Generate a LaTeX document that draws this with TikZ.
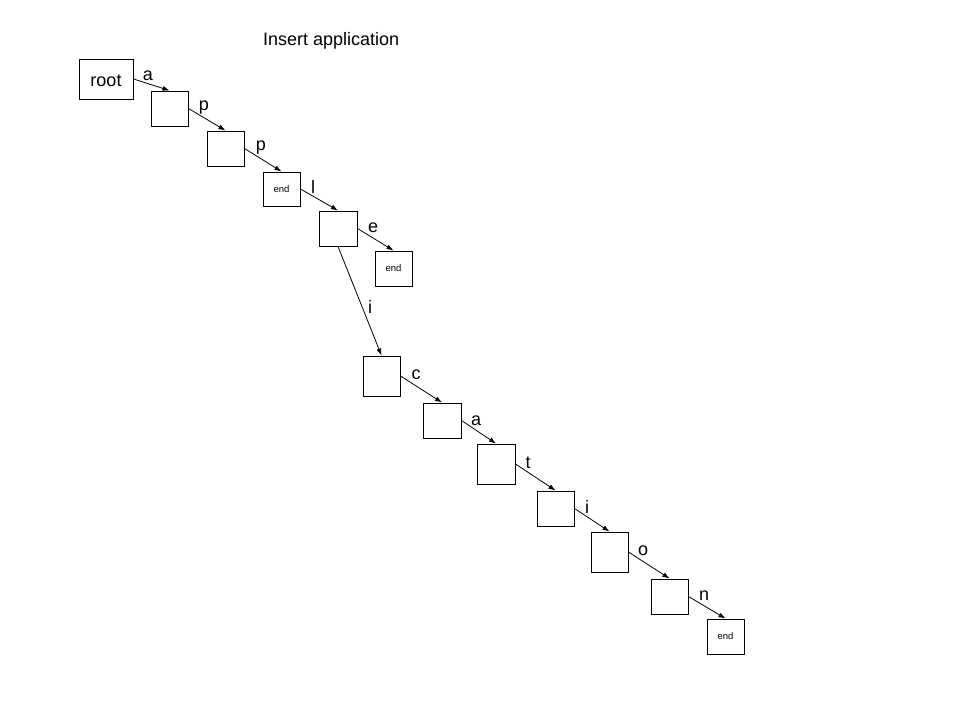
\documentclass[tikz,border=0pt]{standalone}
\usepackage{fontspec}
\setmainfont{Liberation Sans}
\usetikzlibrary{arrows.meta}
\begin{document}
\begin{tikzpicture}[x=1pt,y=-1pt,
  box/.style={draw=black,line width=1pt,inner sep=0pt,fill=white},
  lbl/.style={font=\fontsize{18}{20}\selectfont,inner sep=0pt},
  endtxt/.style={font=\fontsize{9.5}{11}\selectfont},
  arr/.style={-{Latex[length=7pt,width=5pt]},line width=0.8pt}]
\useasboundingbox[fill=white] (0,0) rectangle (960,720);
\node[lbl,anchor=base] (title) at (331.2,45) {Insert application};
\node[box,minimum width=54pt,minimum height=40pt,lbl,text height=15pt,text depth=0pt] (root) at (106,79) {root};
\node[box,minimum width=37pt,minimum height=35pt] (b1) at (169.5,108.5) {};
\node[box,minimum width=37pt,minimum height=35pt] (b2) at (225.5,148.5) {};
\node[box,minimum width=37pt,minimum height=34pt,endtxt] (e1) at (281.5,189) {end};
\node[box,minimum width=38pt,minimum height=35pt] (bl) at (338,228.5) {};
\node[box,minimum width=37pt,minimum height=35pt,endtxt] (e2) at (393.5,268.5) {end};
\node[box,minimum width=37pt,minimum height=40pt] (bc) at (381.5,376) {};
\node[box,minimum width=38pt,minimum height=35pt] (ba) at (442,420.5) {};
\node[box,minimum width=38pt,minimum height=40pt] (bt) at (496,464) {};
\node[box,minimum width=37pt,minimum height=35pt] (bi) at (555.5,508.5) {};
\node[box,minimum width=37pt,minimum height=40pt] (bo) at (609.5,552) {};
\node[box,minimum width=37pt,minimum height=35pt] (bn) at (669.5,596.5) {};
\node[box,minimum width=37pt,minimum height=35pt,endtxt] (e3) at (725.5,636.5) {end};
\draw[arr] (root.east) -- (b1.north);
\draw[arr] (b1.east) -- (b2.north);
\draw[arr] (b2.east) -- (e1.north);
\draw[arr] (e1.east) -- (bl.north);
\draw[arr] (bl.east) -- (e2.north);
\draw[arr] (bl.south) -- (bc.north);
\draw[arr] (bc.east) -- (ba.north);
\draw[arr] (ba.east) -- (bt.north);
\draw[arr] (bt.east) -- (bi.north);
\draw[arr] (bi.east) -- (bo.north);
\draw[arr] (bo.east) -- (bn.north);
\draw[arr] (bn.east) -- (e3.north);
\node[lbl] (la) at (148,76) {a};
\node[lbl] (lp1) at (204,108) {p};
\node[lbl] (lp2) at (261,148) {p};
\node[lbl] (ll) at (313,187) {l};
\node[lbl] (le) at (373,228) {e};
\node[lbl] (li1) at (370,307) {i};
\node[lbl] (lc) at (416,375) {c};
\node[lbl] (la2) at (476,421) {a};
\node[lbl] (lt) at (528,463) {t};
\node[lbl] (li2) at (587,507) {i};
\node[lbl] (lo) at (643,551) {o};
\node[lbl] (ln) at (704,596) {n};
\end{tikzpicture}
\end{document}
